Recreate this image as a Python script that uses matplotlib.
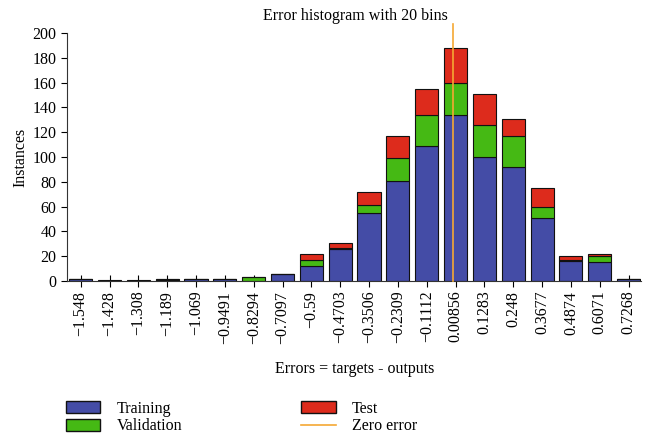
import matplotlib
matplotlib.use("Agg")
import matplotlib.pyplot as plt
import numpy as np
from matplotlib.patches import Patch
from matplotlib.lines import Line2D

plt.rcParams['font.family'] = ['Liberation Serif', 'DejaVu Serif']

bin_centers = [-1.548, -1.428, -1.308, -1.189, -1.069, -0.9491, -0.8294, -0.7097,
               -0.59, -0.4703, -0.3506, -0.2309, -0.1112, 0.00856, 0.1283, 0.248,
               0.3677, 0.4874, 0.6071, 0.7268]
tick_labels = ["\u22121.548", "\u22121.428", "\u22121.308", "\u22121.189", "\u22121.069",
               "\u22120.9491", "\u22120.8294", "\u22120.7097", "\u22120.59", "\u22120.4703",
               "\u22120.3506", "\u22120.2309", "\u22120.1112", "0.00856", "0.1283", "0.248",
               "0.3677", "0.4874", "0.6071", "0.7268"]
training = [2, 0, 0, 1, 2, 2, 0, 6, 12, 26, 55, 81, 109, 134, 100, 92, 51, 16, 15, 2]
validation = [0, 0, 0, 1, 0, 0, 3, 0, 5, 1, 6, 18, 25, 26, 26, 25, 9, 1, 5, 0]
test = [0, 1, 1, 0, 0, 0, 0, 0, 5, 4, 11, 18, 21, 28, 25, 14, 15, 3, 2, 0]

c_train = "#444ca6"
c_val = "#45b914"
c_test = "#dd2b1c"
c_zero = "#f5a833"

fs = 11.5
fig = plt.figure(figsize=(6.48, 4.34), dpi=100)
ax = fig.add_axes([0.1034, 0.3525, 0.8856, 0.5715])
ax.set_axisbelow(True)

x = np.array(bin_centers)
width = 0.8 * 0.1197
tr = np.array(training)
va = np.array(validation)
te = np.array(test)

edge = "#111111"
ax.bar(x, tr, width=width, color=c_train, edgecolor=edge, linewidth=0.8)
ax.bar(x, va, width=width, bottom=tr, color=c_val, edgecolor=edge, linewidth=0.8)
ax.bar(x, te, width=width, bottom=tr + va, color=c_test, edgecolor=edge, linewidth=0.8)

ax.plot([0, 0], [0, 207], color=c_zero, linewidth=1.2, clip_on=False, zorder=5)

ax.set_xlim(-1.6045, 0.778)
ax.set_ylim(0, 200)
ax.set_yticks(np.arange(0, 201, 20))
ax.set_xticks(x)
ax.set_xticklabels(tick_labels, rotation=90)
ax.tick_params(axis='x', direction='inout', length=8, labelsize=fs, pad=3)
ax.tick_params(axis='y', direction='out', length=4, labelsize=fs)

for s in ['top', 'right']:
    ax.spines[s].set_visible(False)
ax.spines['left'].set_color('#333333')
ax.spines['bottom'].set_color('#333333')

ax.set_ylabel("Instances", fontsize=fs, labelpad=3)
fig.text(0.548, 0.955, "Error histogram with 20 bins", ha='center', fontsize=fs)
fig.text(0.548, 0.14, "Errors = targets - outputs", ha='center', fontsize=fs)

leg_kw = dict(loc='upper left', frameon=False, fontsize=fs, handlelength=2.15,
              handleheight=0.8, labelspacing=0.12, handletextpad=1.0,
              borderaxespad=0, borderpad=0)
left_handles = [Patch(facecolor=c_train, edgecolor=edge, label="Training"),
                Patch(facecolor=c_val, edgecolor=edge, label="Validation")]
right_handles = [Patch(facecolor=c_test, edgecolor=edge, label="Test"),
                 Line2D([0], [0], color=c_zero, linewidth=1.2, label="Zero error")]
fig.legend(handles=left_handles, bbox_to_anchor=(0.102, 0.077), **leg_kw)
fig.legend(handles=right_handles, bbox_to_anchor=(0.465, 0.077), **leg_kw)

fig.savefig("out.png", dpi=100)
